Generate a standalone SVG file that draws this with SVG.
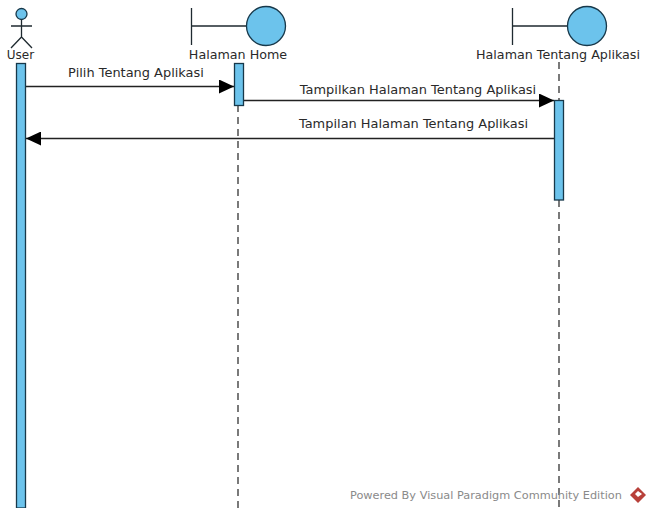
<svg xmlns="http://www.w3.org/2000/svg" width="652" height="508" viewBox="0 0 652 508">
<defs>
<marker id="arrow" markerUnits="userSpaceOnUse" markerWidth="16" markerHeight="14" refX="15" refY="7" orient="auto"><path d="M0 0L15 7L0 14Z" fill="#000"/></marker>
</defs>
<style>
.line{stroke:#1f2a30;stroke-width:1.3;fill:none}
.fill{fill:#6cc3ec;stroke:#17384a;stroke-width:1.3}
.life{stroke:#333;stroke-width:1.3;stroke-dasharray:7 5;fill:none}
.msg{stroke:#222;stroke-width:1.3;fill:none;marker-end:url(#arrow)}
text{font-family:"DejaVu Sans","Liberation Sans",sans-serif;font-size:12.700px;fill:#2a2a2a}
.label{font-size:12.950px}
</style>
<rect width="652" height="508" fill="#fff"/>
<g id="connectors">
<line class="life" x1="238" y1="105" x2="238" y2="508"/>
<line class="life" x1="559" y1="62" x2="559" y2="100"/>
<line class="life" x1="559" y1="200" x2="559" y2="508"/>
<line class="msg" x1="26" y1="86.500" x2="234" y2="86.500"/>
<line class="msg" x1="244" y1="100.500" x2="554" y2="100.500"/>
<line class="msg" x1="554" y1="138.500" x2="26" y2="138.500"/>
<text class="label" x="136" y="77" text-anchor="middle">Pilih Tentang Aplikasi</text>
<text class="label" x="418" y="94" text-anchor="middle">Tampilkan Halaman Tentang Aplikasi</text>
<text class="label" x="413.500" y="128" text-anchor="middle">Tampilan Halaman Tentang Aplikasi</text>
</g>
<g id="user">
<circle class="fill" cx="21.500" cy="14" r="5.500"/>
<path class="line" d="M21.500 19.500V37M11 26H32M11 48L21.500 37L32 48"/>
<text x="20.500" y="59" text-anchor="middle" style="font-size:12px">User</text>
<rect class="fill" x="16.500" y="63.500" width="9" height="444.500"/>
</g>
<g id="home">
<path class="line" d="M191.500 8V45M191.500 26H246"/>
<circle class="fill" cx="266" cy="26" r="19.500"/>
<text x="238" y="59" text-anchor="middle">Halaman Home</text>
<rect class="fill" x="234.500" y="63.500" width="9" height="42"/>
</g>
<g id="tentang">
<path class="line" d="M512.500 8V45M512.500 26H567"/>
<circle class="fill" cx="587" cy="26" r="19.500"/>
<text x="558" y="59" text-anchor="middle">Halaman Tentang Aplikasi</text>
<rect class="fill" x="554.500" y="100.500" width="9" height="99.500"/>
</g>
<g id="watermark">
<text x="350" y="499" style="font-size:11.300px;fill:#8a8a8a">Powered By Visual Paradigm Community Edition</text>
<path d="M638 487L646 495L638 503L630 495Z" fill="#b8403a"/>
<path d="M638 491L642 494L638 497L635 494Z" fill="#fff"/>
</g>
</svg>
